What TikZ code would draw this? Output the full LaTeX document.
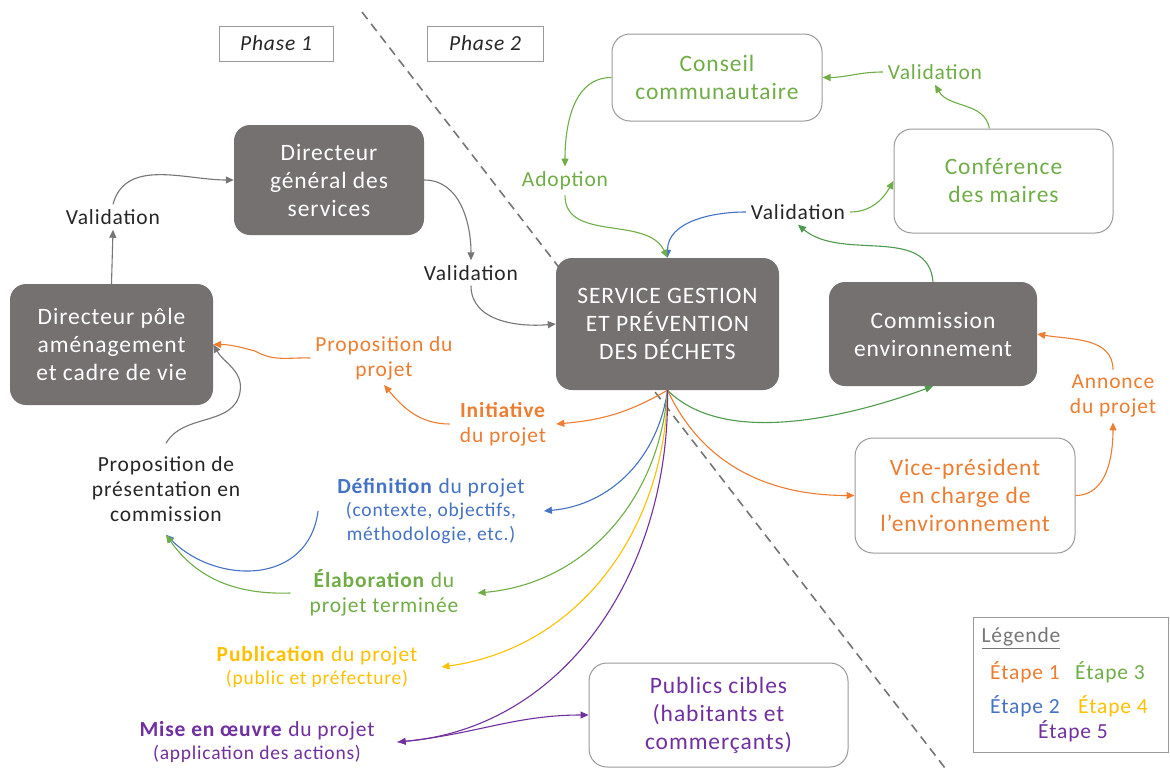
\documentclass[tikz,border=0pt]{standalone}
\usepackage{fontspec}
\setmainfont{Carlito}[LetterSpace=4]
\usetikzlibrary{arrows.meta}
\definecolor{dkgray}{HTML}{767171}
\definecolor{bxborder}{HTML}{9A9A9A}
\definecolor{arrgray}{HTML}{767676}
\definecolor{txtblack}{HTML}{262626}
\definecolor{cgreen}{HTML}{70AD47}
\definecolor{cgreendk}{HTML}{4E9A4E}
\definecolor{corange}{HTML}{ED7D31}
\definecolor{cblue}{HTML}{4472C4}
\definecolor{cyellow}{HTML}{FFC000}
\definecolor{cpurple}{HTML}{7030A0}
\newcommand\bxfont{\fontsize{23.5}{28}\selectfont}
\newcommand\lbfont{\fontsize{21.5}{25}\selectfont}
\newcommand\smfont{\fontsize{19.5}{23.5}\selectfont}
\begin{document}
\begin{tikzpicture}[x=1pt,y=1pt,
  darkbox/.style={rounded corners=16pt, fill=dkgray, text=white, align=center, font=\bxfont, inner sep=0pt},
  whitebox/.style={rounded corners=18pt, draw=bxborder, line width=1pt, fill=white, align=center, font=\bxfont, inner sep=0pt},
  lbl/.style={align=center, font=\lbfont, inner sep=5pt, text=txtblack},
  phasebox/.style={draw=bxborder, line width=1pt, font=\lbfont\itshape, text=txtblack, minimum height=35pt},
  conn/.style={-{Triangle[length=8pt,width=7pt]}, line width=1.1pt},
]
\useasboundingbox (0,0) rectangle (1170,-771);
\fill[white] (0,0) rectangle (1170,-771);

% dashed separator
\coordinate (dA) at (362,-12);
\coordinate (dB) at (945,-768);
\draw[arrgray, line width=1.6pt, dash pattern=on 9pt off 6pt] (dA) -- (dB);

% phases
\node[phasebox, minimum width=114pt] (ph1) at (276,-43.5) {Phase 1};
\node[phasebox, minimum width=116pt] (ph2) at (485,-43.5) {Phase 2};

% boxes
\node[darkbox, minimum width=190pt, minimum height=110pt] (dg) at (329,-180) {Directeur\\général des\\services};
\node[darkbox, minimum width=203pt, minimum height=121pt] (dp) at (111.5,-344.5) {Directeur pôle\\aménagement\\et cadre de vie};
\node[darkbox, minimum width=223pt, minimum height=132pt] (svc) at (667.5,-324) {SERVICE GESTION\\ET PRÉVENTION\\DES DÉCHETS};
\node[darkbox, minimum width=208pt, minimum height=104pt] (com) at (933,-334) {Commission\\environnement};
\node[whitebox, text=cgreen, minimum width=210pt, minimum height=87pt] (cc) at (717,-77.5) {Conseil\\communautaire};
\node[whitebox, text=cgreen, minimum width=219pt, minimum height=104pt] (conf) at (1003.5,-181) {Conférence\\des maires};
\node[whitebox, text=corange, minimum width=220pt, minimum height=115pt] (vp) at (965,-495.5) {Vice-président\\en charge de\\l’environnement};
\node[whitebox, text=cpurple, minimum width=259pt, minimum height=104pt] (cib) at (718.5,-715) {Publics cibles\\(habitants et\\commerçants)};

% labels
\node[lbl] (val1) at (113,-217) {Validation};
\node[lbl] (val2) at (471,-273) {Validation};
\node[lbl] (val3) at (798,-212) {Validation};
\node[lbl, text=cgreen] (val4) at (935,-72) {Validation};
\node[lbl, text=cgreen] (adopt) at (565,-181) {Adoption};
\node[lbl, text=corange] (prop) at (384,-358) {Proposition du\\projet};
\node[lbl, text=corange, inner xsep=10pt] (init) at (503,-424) {\textbf{Initiative}\\du projet};
\node[lbl, inner ysep=13pt] (prez) at (166,-489) {Proposition de\\présentation en\\commission};
\node[lbl, text=cblue, font=\smfont, inner xsep=19pt] (def) at (431,-511) {{\lbfont\textbf{Définition} du projet}\\(contexte, objectifs,\\méthodologie, etc.)};
\node[lbl, text=cgreen, inner xsep=19pt] (elab) at (384,-593) {\textbf{Élaboration} du\\projet terminée};
\node[lbl, text=cyellow, font=\smfont, inner xsep=24pt] (pub) at (317,-667) {{\lbfont\textbf{Publication} du projet}\\(public et préfecture)};
\node[lbl, text=cpurple, font=\smfont, inner xsep=23pt] (mise) at (257,-742) {{\lbfont\textbf{Mise en œuvre} du projet}\\(application des actions)};
\node[lbl, text=corange] (ann) at (1113,-396) {Annonce\\du projet};

% legend
\node[draw=bxborder, line width=1pt, minimum width=195pt, minimum height=135pt, inner sep=0pt] (leg) at (1070.5,-684.5) {};
\node[font=\lbfont, text=arrgray, inner sep=0pt] (legt) at (1021,-638) {\underline{Légende}};
\node[font=\lbfont, text=corange, inner sep=0pt] (e1) at (1025,-672) {Étape 1};
\node[font=\lbfont, text=cgreen, inner sep=0pt] (e3) at (1110,-672) {Étape 3};
\node[font=\lbfont, text=cblue, inner sep=0pt] (e2) at (1025,-706) {Étape 2};
\node[font=\lbfont, text=cyellow, inner sep=0pt] (e4) at (1113,-706) {Étape 4};
\node[font=\lbfont, text=cpurple, inner sep=0pt] (e5) at (1073,-731) {Étape 5};

% gray connectors (phase 1)
\draw[conn, arrgray] (dp.north) -- (val1.south);
\draw[conn, arrgray] (val1.north) to[out=75,in=180] (dg.west);
\draw[conn, arrgray] (dg.east) to[out=0,in=90] (val2.north);
\draw[conn, arrgray] (val2.south) to[out=-90,in=185] (svc.west);
\coordinate (gw) at (240,-392);
\draw[conn, arrgray] (prez.north) to[out=60,in=-100] (gw) to[out=80,in=-60] (dp.east);

% orange
\coordinate (ow) at (255,-351);
\draw[conn, corange] (prop.west) to[out=178,in=-30] (ow) to[out=165,in=0] (dp.east);
\draw[conn, corange] (svc.south) to[out=-150,in=5] (init.east);
\draw[conn, corange] (init.west) to[out=180,in=-50] (prop.south);
\draw[conn, corange] (svc.south) to[out=-65,in=180] (vp.west);
\draw[conn, corange] (vp.east) to[out=0,in=-90] (ann.south);
\draw[conn, corange] (ann.north) to[out=90,in=-10] (com.east);

% blue
\draw[conn, cblue] (svc.south) to[out=-98,in=5] (def.east);
\draw[conn, cblue] (def.west) .. controls +(-10,-75) and +(50,-50) .. (prez.south);
\draw[conn, cblue] (val3.west) to[out=180,in=90] (svc.north);

% green
\draw[conn, cgreen] (svc.south) to[out=-94,in=5] (elab.east);
\draw[conn, cgreen] (elab.west) to[out=182,in=-55] (prez.south);
\draw[conn, cgreendk] (svc.south) to[out=-45,in=-160,looseness=0.8] (com.south);
\draw[conn, cgreendk] (com.north) to[out=95,in=-40] (val3.south);
\draw[conn, cgreen] (adopt.south) to[out=-90,in=115] (svc.north);
\draw[conn, cgreen] (cc.west) to[out=180,in=90] (adopt.north);
\draw[conn, cgreen] (val3.east) to[out=0,in=-120] (conf.west);
\draw[conn, cgreen] (conf.105) to[out=100,in=-60] (val4.south);
\draw[conn, cgreen] (val4.west) to[out=180,in=0] (cc.east);

% yellow
\draw[conn, cyellow] (svc.south) to[out=-91,in=8] (pub.east);

% purple
\draw[conn, cpurple] (svc.south) to[out=-89,in=5] (mise.east);
\draw[conn, cpurple] (mise.east) to[out=5,in=180] (cib.west);
\end{tikzpicture}
\end{document}
